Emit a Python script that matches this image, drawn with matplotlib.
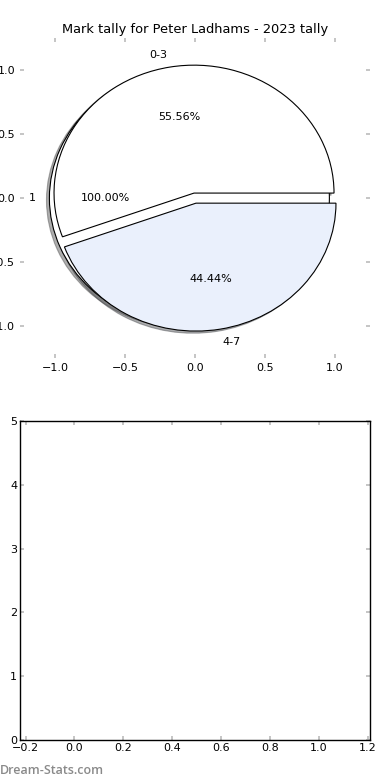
import matplotlib
matplotlib.use('Agg')
import matplotlib.pyplot as plt

# mark tally data
title = 'Mark tally for Peter Ladhams - 2023 tally'
tally_labels = ['0-3', '4-7']
tally_values = [5, 4]
tally_colors = ['#ffffff', '#eaf0fc']
base_labels = ['1']
base_values = [1]

x_ticks_top = [-1.0, -0.5, 0.0, 0.5, 1.0]
y_ticks_top = [-1.0, -0.5, 0.0, 0.5, 1.0]
x_ticks_bottom = [-0.2, 0.0, 0.2, 0.4, 0.6, 0.8, 1.0, 1.2]
y_ticks_bottom = [0, 1, 2, 3, 4, 5]

plt.rcParams['font.size'] = 8
fig = plt.figure(figsize=(3.9, 7.8), dpi=100)

shadow = {'ox': -0.015, 'oy': -0.012, 'alpha': 0.45}

# top: pie chart
ax = fig.add_axes([0.0513, 0.541, 0.8974, 0.410])
ax.pie(base_values, labels=base_labels, colors=['white'], autopct='%.2f%%',
       explode=[0.04], shadow=shadow, labeldistance=1.1, pctdistance=0.6,
       wedgeprops={'edgecolor': 'black', 'linewidth': 0.8}, frame=True)
ax.pie(tally_values, labels=tally_labels, colors=tally_colors, autopct='%.2f%%',
       explode=[0.04, 0.04], shadow=shadow, labeldistance=1.1, pctdistance=0.6,
       wedgeprops={'edgecolor': 'black', 'linewidth': 0.8}, frame=True)
ax.set_aspect('auto')
ax.set_xlim(-1.25, 1.25)
ax.set_ylim(-1.25, 1.25)
ax.set_xticks(x_ticks_top)
ax.set_yticks(y_ticks_top)
ax.set_frame_on(False)
ax.set_title(title, fontsize=9.4, pad=4)
ax.tick_params(direction='in', length=3, width=1.2, color='#bbbbbb',
               top=True, right=True, labelsize=8)

# bottom: empty chart
ax2 = fig.add_axes([0.0513, 0.0513, 0.8974, 0.409])
ax2.set_xlim(-0.223, 1.21)
ax2.set_ylim(0, 5)
ax2.set_xticks(x_ticks_bottom)
ax2.set_yticks(y_ticks_bottom)
ax2.set_xticklabels(['\u22120.2', '0.0', '0.2', '0.4', '0.6', '0.8', '1.0', '1.2'])
ax2.tick_params(direction='in', length=3, width=1.2, color='#bbbbbb',
                top=True, right=True, labelsize=8, pad=2)
for s in ax2.spines.values():
    s.set_linewidth(1.0)

fig.text(0.0, 0.0128, 'Dream-Stats.com', fontsize=9, color='#8a8a8a',
         family='Open Sans', fontweight='semibold', ha='left', va='center')

fig.savefig('out.png', dpi=100)
